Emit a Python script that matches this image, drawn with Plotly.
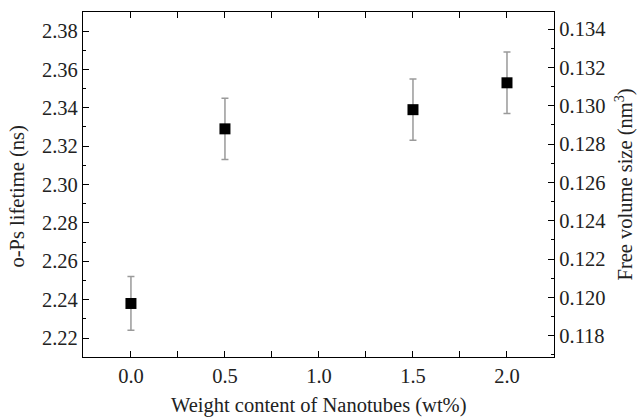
import plotly.graph_objects as go

wt = [0.0, 0.5, 1.5, 2.0]
lifetime = [2.238, 2.329, 2.339, 2.353]
lifetime_err = [0.014, 0.016, 0.016, 0.016]

x_ticks = [0.0, 0.5, 1.0, 1.5, 2.0]
x_ticklabels = ["0.0", "0.5", "1.0", "1.5", "2.0"]

FONT = "Liberation Serif, Times New Roman, serif"
TICKSIZE = 20.5
TITLESIZE = 20.5

fig = go.Figure()
fig.add_trace(go.Scatter(
    x=wt, y=lifetime, mode="markers",
    marker=dict(symbol="square", size=11, color="black"),
    error_y=dict(type="data", array=lifetime_err, visible=True,
                 color="#9a9a9a", thickness=1.5, width=3.5),
    showlegend=False,
))
# empty trace to activate the right-hand axis
fig.add_trace(go.Scatter(x=[], y=[], yaxis="y2", showlegend=False, hoverinfo="skip"))

axis_common = dict(showline=True, linecolor="black", linewidth=1.3,
                   ticks="inside", ticklen=6, tickwidth=1.2, tickcolor="black",
                   showgrid=False, zeroline=False, automargin=False,
                   tickfont=dict(family=FONT, size=TICKSIZE, color="#222"))

fig.update_layout(
    width=637, height=418,
    margin=dict(l=83, r=83, t=12, b=61),
    paper_bgcolor="white", plot_bgcolor="white",
    font=dict(family=FONT, color="#222"),
    xaxis=dict(range=[-0.255, 2.25], tickvals=x_ticks, ticktext=x_ticklabels,
               mirror="allticks",
               minor=dict(ticks="inside", dtick=0.25, tick0=0, ticklen=3, tickwidth=1.2, tickcolor="black"),
               **axis_common),
    yaxis=dict(range=[2.2101, 2.3899], dtick=0.02, tick0=2.22, tickformat=".2f",
               minor=dict(ticks="inside", dtick=0.01, ticklen=3, tickwidth=1.2, tickcolor="black"),
               **axis_common),
    yaxis2=dict(range=[0.11689, 0.13489], dtick=0.002, tick0=0.118, tickformat=".3f",
                overlaying="y", side="right",
                minor=dict(ticks="inside", dtick=0.001, ticklen=3, tickwidth=1.2, tickcolor="black"),
                **axis_common),
    annotations=[
        dict(text="Weight content of Nanotubes (wt%)", xref="paper", yref="paper",
             x=0.5, y=0, yshift=-48, xanchor="center", yanchor="middle", showarrow=False,
             font=dict(family=FONT, size=TITLESIZE, color="#222")),
        dict(text="o-Ps lifetime (ns)", xref="paper", yref="paper",
             x=0, y=0.5, xshift=-66, yshift=-12, xanchor="center", yanchor="middle", textangle=-90,
             showarrow=False, font=dict(family=FONT, size=TITLESIZE, color="#222")),
        dict(text="Free volume size (nm<sup>3</sup>)", xref="paper", yref="paper",
             x=1, y=0.5, xshift=70, xanchor="center", yanchor="middle", textangle=-90,
             showarrow=False, font=dict(family=FONT, size=TITLESIZE, color="#222")),
    ],
)

fig.write_html("out.html", config={"displayModeBar": False},
               post_script="document.body.style.margin='0';document.body.style.overflow='hidden';")
